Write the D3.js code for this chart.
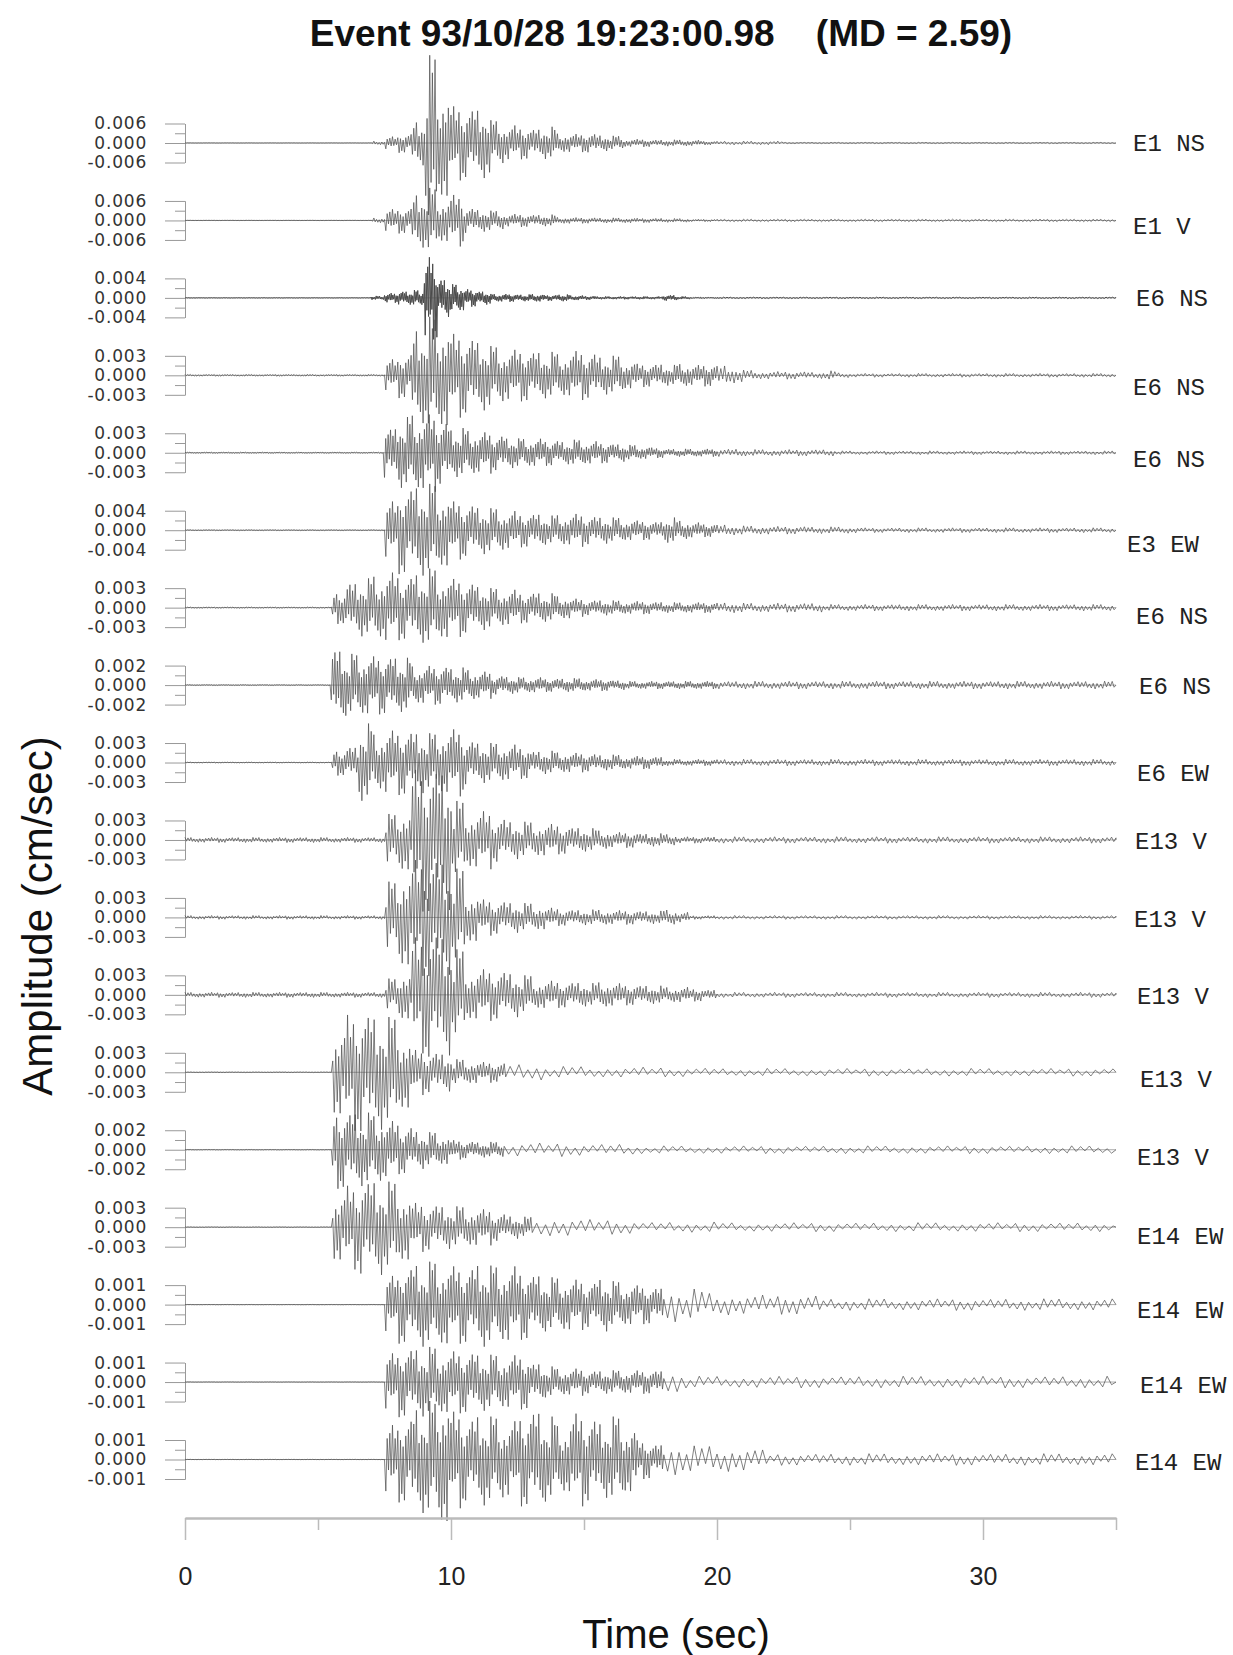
<!DOCTYPE html>
<html>
<head>
<meta charset="utf-8">
<script src="https://cdn.jsdelivr.net/npm/d3@7"></script>
<style>
body { margin: 0; background: #fff; }
svg { display: block; }
text { font-family: "Liberation Sans", Arial, sans-serif; }
</style>
</head>
<body>
<svg width="1233" height="1655"></svg>
<script>
// station / component of each trace, top to bottom
var stations = ["E1 NS","E1 V","E6 NS","E6 NS","E6 NS","E3 EW","E6 NS","E6 NS","E6 EW",
                "E13 V","E13 V","E13 V","E13 V","E13 V","E14 EW","E14 EW","E14 EW","E14 EW"];
// scale bar value of each trace (cm/sec)
var scaleCm = [0.006,0.006,0.004,0.003,0.003,0.004,0.003,0.002,0.003,
               0.003,0.003,0.003,0.003,0.002,0.003,0.001,0.001,0.001];
var timeTicks = [0,10,20,30];
var timeMinor = [5,15,25,35];

// peak amplitude per 0.5 s window, 0-35 s, in 1e-4 cm/sec
var env1 = [0.5,0.5,0.5,0.5,0.5,0.5,0.5,0.5,0.5,0.5,
            0.5,0.5,0.5,0.5,6,20,30,70,270,180,
            115,110,110,70,55,50,45,50,30,28,
            30,25,22,12,12,10,10,10,9,6,
            6,6,6,6,6,2,2,2,2,2,
            2,2,2,2,2,2,2,2,2,2,
            2,2,2,2,2,2,2,2,2,2];
var env2 = [0.5,0.5,0.5,0.5,0.5,0.5,0.5,0.5,0.5,0.5,
            0.5,0.5,0.5,0.5,8,35,40,85,100,70,
            80,40,35,30,20,20,18,18,10,9,
            9,8,8,8,7,7,6,6,4,4,
            4,4,4,4,4,4,4,4,4,4,
            4,4,4,4,4,4,4,4,4,4,
            4,4,4,4,4,4,4,4,4,4];
var env3 = [0.5,0.5,0.5,0.5,0.5,0.5,0.5,0.5,0.5,0.5,
            0.5,0.5,0.5,0.5,4,10,14,16,85,40,
            28,18,14,8,8,7,8,6,7,5,
            4,3,3,3,3,3,6,3,1.5,1.5,
            1.5,1.5,1.5,1.5,1.5,1.5,1.5,1.5,1.5,1.5,
            1.5,1.5,1.5,1.5,1.5,1.5,1.5,1.5,1.5,1.5,
            1.5,1.5,1.5,1.5,1.5,1.5,1.5,1.5,1.5,1.5];
var env4 = [1.5,1.5,1.5,1.5,1.5,1.5,1.5,1.5,1.5,1.5,
            1.5,1.5,1.5,1.5,1.5,25,35,75,90,85,
            65,60,55,45,40,40,38,36,34,38,
            36,30,30,22,18,18,16,18,16,17,
            16,12,8,6,6,6,6,5,7,4,
            3,3,3,3,3,3,3,3,3,3,
            3,3,3,3,3,3,3,3,3,3];
var env5 = [1,1,1,1,1,1,1,1,1,1,
            1,1,1,1,1,40,55,60,60,50,
            38,35,32,28,24,22,22,20,18,20,
            18,16,14,12,10,8,6,6,6,6,
            6,6,5,5,5,5,5,5,5,3,
            3,3,3,3,3,3,3,3,3,3,
            3,3,3,3,3,3,3,3,3,3];
var env6 = [1,1,1,1,1,1,1,1,1,1,
            1,1,1,1,1,60,90,95,95,80,
            60,55,50,45,40,35,35,30,32,34,
            30,28,26,22,20,18,26,20,16,14,
            12,10,9,9,8,8,8,7,7,7,
            6,5,5,5,5,5,5,5,5,5,
            5,5,5,5,5,5,5,5,5,5];
var env7 = [1,1,1,1,1,1,1,1,1,1,
            1,25,40,45,50,55,50,55,60,50,
            45,40,35,30,28,24,24,22,18,14,
            12,12,11,10,10,9,8,8,8,8,
            8,8,7,7,7,7,7,7,5,5,
            5,5,5,5,5,5,5,5,5,5,
            5,5,5,5,5,5,5,5,5,5];
var env8 = [0.5,0.5,0.5,0.5,0.5,0.5,0.5,0.5,0.5,0.5,
            0.5,38,32,32,30,30,28,20,20,20,
            18,16,14,10,9,8,8,7,7,7,
            6,6,5,4,4,4,4,4,4,4,
            4,4,4,4,4,4,4,4,4,4,
            4,4,4,4,4,4,4,4,4,4,
            4,4,4,4,4,4,4,4,4,4];
var env9 = [0.7,0.7,0.7,0.7,0.7,0.7,0.7,0.7,0.7,0.7,
            0.7,20,25,60,45,50,50,48,45,50,
            52,35,32,30,28,25,18,18,16,15,
            14,12,12,10,10,9,5,5,5,5,
            5,5,5,5,5,5,5,5,5,5,
            5,5,5,5,5,5,5,5,5,5,
            5,5,5,5,5,5,5,5,5,5];
var env10 = [4,4,4,4,4,4,4,4,4,4,
             4,4,4,4,4,40,50,110,115,110,
             60,45,45,35,30,28,26,25,22,20,
             18,15,12,12,10,10,9,5,5,5,
             5,5,5,5,5,5,5,5,5,5,
             5,5,5,5,5,5,5,5,5,5,
             5,5,5,5,5,5,5,5,5,5];
var env11 = [3,3,3,3,3,3,3,3,3,3,
             3,3,3,3,3,55,80,90,95,90,
             75,40,28,26,24,22,20,15,13,12,
             12,12,11,11,10,10,12,8,3,3,
             3,3,3,3,3,3,3,3,3,3,
             3,3,3,3,3,3,3,3,3,3,
             3,3,3,3,3,3,3,3,3,3];
var env12 = [4,4,4,4,4,4,4,4,4,4,
             4,4,4,4,4,25,40,90,100,95,
             70,40,40,38,35,30,22,22,20,20,
             18,20,18,16,15,14,12,12,10,8,
             4,4,4,4,4,4,4,4,4,4,
             4,4,4,4,4,4,4,4,4,4,
             4,4,4,4,4,4,4,4,4,4];
var env13 = [0.5,0.5,0.5,0.5,0.5,0.5,0.5,0.5,0.5,0.5,
             0.5,70,90,95,90,85,60,35,32,30,
             20,18,16,15,14,13,12,10,9,9,
             9,8,8,8,8,8,7,7,7,7,
             6,6,6,6,6,6,6,6,6,6,
             6,6,6,6,6,6,6,6,6,6,
             6,6,6,6,6,6,6,6,6,6];
var env14 = [0.3,0.3,0.3,0.3,0.3,0.3,0.3,0.3,0.3,0.3,
             0.3,40,40,38,36,30,25,20,18,16,
             10,9,8,8,7,7,7,7,7,6,
             6,6,6,6,4,4,4,4,4,4,
             4,4,4,4,4,4,4,4,4,4,
             4,4,4,4,4,4,4,4,4,4,
             4,4,4,4,4,4,4,4,4,4];
var env15 = [0.5,0.5,0.5,0.5,0.5,0.5,0.5,0.5,0.5,0.5,
             0.5,55,65,75,75,70,55,38,36,34,
             32,30,28,22,18,16,15,15,14,13,
             12,12,11,10,8,8,8,8,8,8,
             7,7,7,7,7,7,7,7,7,7,
             7,7,7,7,7,7,7,7,7,7,
             7,7,7,7,7,7,7,7,7,7];
var env16 = [0.1,0.1,0.1,0.1,0.1,0.1,0.1,0.1,0.1,0.1,
             0.1,0.1,0.1,0.1,0.1,15,20,22,22,22,
             20,20,22,20,20,18,16,14,14,13,
             12,14,12,11,10,9,9,8,8,6,
             6,5,5,5,5,5,5,5,3,3,
             3,3,3,3,3,3,3,3,3,3,
             3,3,3,3,3,3,3,3,3,3];
var env17 = [0.1,0.1,0.1,0.1,0.1,0.1,0.1,0.1,0.1,0.1,
             0.1,0.1,0.1,0.1,0.1,15,18,18,18,17,
             16,16,15,14,14,14,10,8,7,7,
             6,6,6,6,6,6,6,5,3,3,
             3,3,3,3,3,3,3,3,3,3,
             3,3,3,3,3,3,3,3,3,3,
             3,3,3,3,3,3,3,3,3,3];
var env18 = [0.1,0.1,0.1,0.1,0.1,0.1,0.1,0.1,0.1,0.1,
             0.1,0.1,0.1,0.1,0.1,18,22,28,30,35,
             25,22,24,22,20,24,26,22,18,24,
             22,20,22,18,10,8,8,9,7,7,
             7,6,6,5,3,3,3,3,3,3,
             3,3,3,3,3,3,3,3,3,3,
             3,3,3,3,3,3,3,3,3,3];
var envs = [env1,env2,env3,env4,env5,env6,env7,env8,env9,
            env10,env11,env12,env13,env14,env15,env16,env17,env18];
var binSec = 0.5;

// drawing style of the wiggles
var waveHz   = [10,10,16,10,11,10,10,11,10,9,9,9,9,10,9,10,10,10];
var codaHz   = [7,7,8,7,7,7,7,7,7,6,6,6,3,3,3,3.5,3,3.5];
var codaFrom = [20,20,20,20,20,20,20,20,20,20,20,20,12,12,13,18,18,18];
var strokeW  = [0.7,0.7,1,0.7,0.7,0.7,0.7,0.7,0.7,0.7,0.7,0.7,0.7,0.7,0.7,0.7,0.7,0.7];
var spike = [1,.45,.8,.3,.95,.55,.4,.7,.25,.88,.5,.65,.35,.9,.6,.3,.75,.45,.98,.4,.6,.28,.82];

// layout
var labelDx = [0,0,3,0,0,-6,3,6,4,2,1,4,7,4,4,4,7,2];
var labelDy = [0,5,0,11,6,13,8,1,10,1,1,1,6,7,8,5,3,2];
var half = 19.5;

var xs = d3.scaleLinear().domain([0,35]).range([185,1116]);
var rowY = d3.scaleLinear().domain([0,17]).range([143,1459.5]);
var svg = d3.select("svg");

function fmt(d){ return d3.format(".3f")(d).replace("\u2212","-"); }

function wave(env, hz, hz2, t2){
  var pts = [], t = 0, j = 0;
  while (t <= 35) {
    var b = Math.min(env.length-1, Math.floor(t/binSec));
    var a = env[b] * spike[j % spike.length] * (j % 2 ? -1 : 1);
    pts.push([t, a*1e-4]);
    t += 1/(2*(t < t2 ? hz : hz2));
    j++;
  }
  pts.push([35, 0]);
  return pts;
}

svg.append("text")
  .attr("x",661).attr("y",46)
  .attr("text-anchor","middle")
  .style("font-weight","bold").style("font-size","37px")
  .style("white-space","pre").attr("fill","#111")
  .text("Event 93/10/28 19:23:00.98    (MD = 2.59)");

envs.forEach(function(env,i){
  var s = scaleCm[i];
  var base = rowY(i);
  var ys = d3.scaleLinear().domain([-s,s]).range([base+half, base-half]);
  var g = svg.append("g");

  g.append("line").attr("x1",xs(0)).attr("x2",xs(35))
    .attr("y1",base).attr("y2",base)
    .attr("stroke","#aaa").attr("stroke-width",1);

  var maj = g.append("g").attr("transform","translate("+xs(0)+",0)")
    .call(d3.axisLeft(ys).tickValues([-s,0,s]).tickSize(20).tickSizeOuter(0)
      .tickPadding(18).tickFormat(fmt));
  var mnr = g.append("g").attr("transform","translate("+xs(0)+",0)")
    .call(d3.axisLeft(ys).tickValues([-s/2,s/2]).tickSize(10).tickSizeOuter(0).tickFormat(""));
  [maj,mnr].forEach(function(a){
    a.select(".domain").attr("stroke","#999");
    a.selectAll(".tick line").attr("stroke","#999");
  });
  maj.selectAll(".tick text")
    .attr("fill","#333")
    .style("font-family","'DejaVu Sans', sans-serif")
    .style("font-size","17px").style("letter-spacing","0.8px");

  var line = d3.line().x(function(d){return xs(d[0]);}).y(function(d){return ys(d[1]);});
  g.append("path").datum(wave(env, waveHz[i], codaHz[i], codaFrom[i]))
    .attr("d", line)
    .attr("fill","none").attr("stroke","#4a4a4a").attr("stroke-width",strokeW[i])
    .attr("stroke-linejoin","round");

  g.append("text")
    .attr("x",1133+labelDx[i]).attr("y",base+labelDy[i]).attr("dy","0.35em")
    .style("font-family","'Liberation Mono', 'Courier New', monospace")
    .style("font-size","24px").attr("fill","#222")
    .text(stations[i]);
});

var ax = svg.append("g").attr("transform","translate(0,1518)")
  .call(d3.axisBottom(xs).tickValues(timeTicks).tickSize(22).tickSizeOuter(0).tickPadding(27));
var ax2 = svg.append("g").attr("transform","translate(0,1518)")
  .call(d3.axisBottom(xs).tickValues(timeMinor).tickSize(12).tickSizeOuter(0).tickFormat(""));
[ax,ax2].forEach(function(a){
  a.select(".domain").attr("stroke","#bbb").attr("stroke-width",2);
  a.selectAll(".tick line").attr("stroke","#bbb").attr("stroke-width",1.5);
});
ax.selectAll(".tick text").attr("fill","#222")
  .style("font-family","'Liberation Sans', Arial, sans-serif").style("font-size","25px");

svg.append("text")
  .attr("x",676).attr("y",1648).attr("text-anchor","middle")
  .style("font-size","40px").attr("fill","#111")
  .text("Time (sec)");

svg.append("text")
  .attr("transform","translate(52,916) rotate(-90)")
  .attr("text-anchor","middle")
  .style("font-size","42px").attr("fill","#111")
  .text("Amplitude (cm/sec)");
</script>
</body>
</html>
